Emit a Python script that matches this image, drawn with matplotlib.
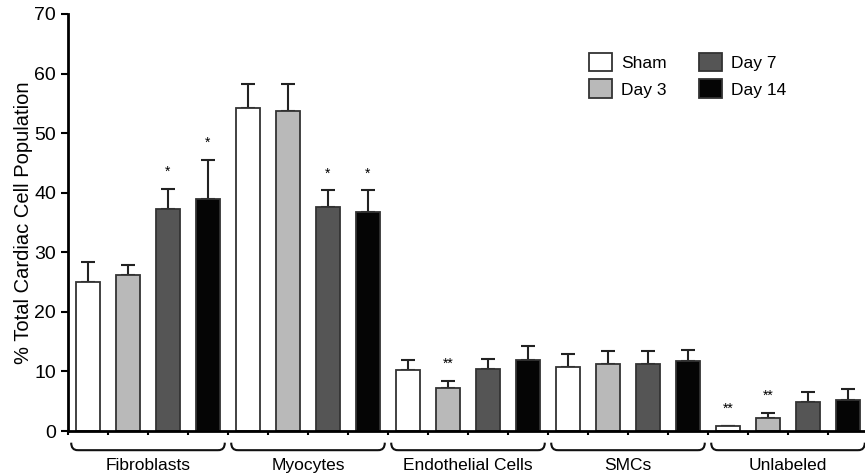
import numpy as np
import matplotlib
matplotlib.use('Agg')
from matplotlib import pyplot as plt
from matplotlib.path import Path
from matplotlib.patches import PathPatch
import matplotlib.transforms as mtransforms

plt.rcParams['font.family'] = ['Liberation Sans', 'DejaVu Sans']

# Dados
grupos = ['Fibroblasts', 'Myocytes', 'Endothelial Cells', 'SMCs', 'Unlabeled']
series = ['Sham', 'Day 3', 'Day 7', 'Day 14']
cores = ['#ffffff', '#b9b9b9', '#555555', '#050505']

sham = [25.0, 54.2, 10.2, 10.7, 0.8]
day3 = [26.2, 53.7, 7.3, 11.2, 2.1]
day7 = [37.3, 37.6, 10.4, 11.2, 4.9]
day14 = [39.0, 36.7, 12.0, 11.8, 5.2]

err_sham = [3.4, 4.0, 1.7, 2.3, 0.1]
err_day3 = [1.7, 4.6, 1.1, 2.2, 1.0]
err_day7 = [3.4, 2.8, 1.7, 2.2, 1.7]
err_day14 = [6.5, 3.7, 2.3, 1.8, 1.9]

# asteriscos: (grupo, serie, texto)
signif = [(0, 2, '*'), (0, 3, '*'), (1, 2, '*'), (1, 3, '*'),
          (2, 1, '**'), (4, 0, '**'), (4, 1, '**')]

valores = [sham, day3, day7, day14]
erros = [err_sham, err_day3, err_day7, err_day14]

fig = plt.figure(figsize=(8.65, 4.74), dpi=100)
ax = fig.add_axes([68 / 865, 1 - 431 / 474, 800 / 865, 417 / 474])

n_series = len(series)
largura = 0.62
for s in range(n_series):
    x = np.arange(len(grupos)) * n_series + s + 0.5
    ax.bar(x, valores[s], largura, color=cores[s], edgecolor='#333333',
           linewidth=1.3, label=series[s], zorder=2)
    ax.errorbar(x, valores[s], yerr=[np.zeros(len(grupos)), erros[s]],
                fmt='none', ecolor='#222222', elinewidth=1.5, capsize=5,
                capthick=1.5, zorder=1)

for g, s, txt in signif:
    x = g * n_series + s + 0.5
    y = valores[s][g] + erros[s][g]
    ax.annotate(txt, (x, y), xytext=(0, 7), textcoords='offset points',
                ha='center', va='bottom', fontsize=10)

# Eixos
ax.set_xlim(0, len(grupos) * n_series)
ax.set_ylim(0, 70)
ax.set_yticks(range(0, 71, 10))
ax.set_xticks(range(0, len(grupos) * n_series + 1))
ax.set_xticklabels([])
ax.tick_params(axis='x', direction='out', length=3, width=1.5)
ax.tick_params(axis='y', direction='out', length=5, width=1.5, labelsize=14)
ax.spines['top'].set_visible(False)
ax.spines['right'].set_visible(False)
ax.spines['left'].set_linewidth(2)
ax.spines['bottom'].set_linewidth(2)
ax.set_ylabel('% Total Cardiac Cell Population', fontsize=14.5, labelpad=1)

# Chaves abaixo de cada grupo
trans = mtransforms.blended_transform_factory(ax.transData, ax.transAxes)
topo, base, r = -0.028, -0.046, 0.16
for g, nome in enumerate(grupos):
    x0 = g * n_series + 0.08
    x1 = (g + 1) * n_series - 0.08
    verts = [(x0, topo), (x0, base), (x0 + r, base), (x0 + r, base),
             (x1 - r, base), (x1 - r, base), (x1, base), (x1, topo)]
    codes = [Path.MOVETO, Path.CURVE3, Path.CURVE3, Path.MOVETO,
             Path.LINETO, Path.MOVETO, Path.CURVE3, Path.CURVE3]
    ax.add_patch(PathPatch(Path(verts, codes), transform=trans, fill=False,
                           lw=1.5, edgecolor='#111111', clip_on=False))
    ax.text((x0 + x1) / 2, -0.083, nome, transform=trans, ha='center',
            va='center', fontsize=12.5)

ax.legend(loc='upper left', bbox_to_anchor=(0.632, 0.945), ncol=2,
          frameon=False, fontsize=12.5, handlelength=1.3, handleheight=1.3,
          labelspacing=0.45, columnspacing=1.85, handletextpad=0.55)

plt.savefig('out.png', dpi=100)
